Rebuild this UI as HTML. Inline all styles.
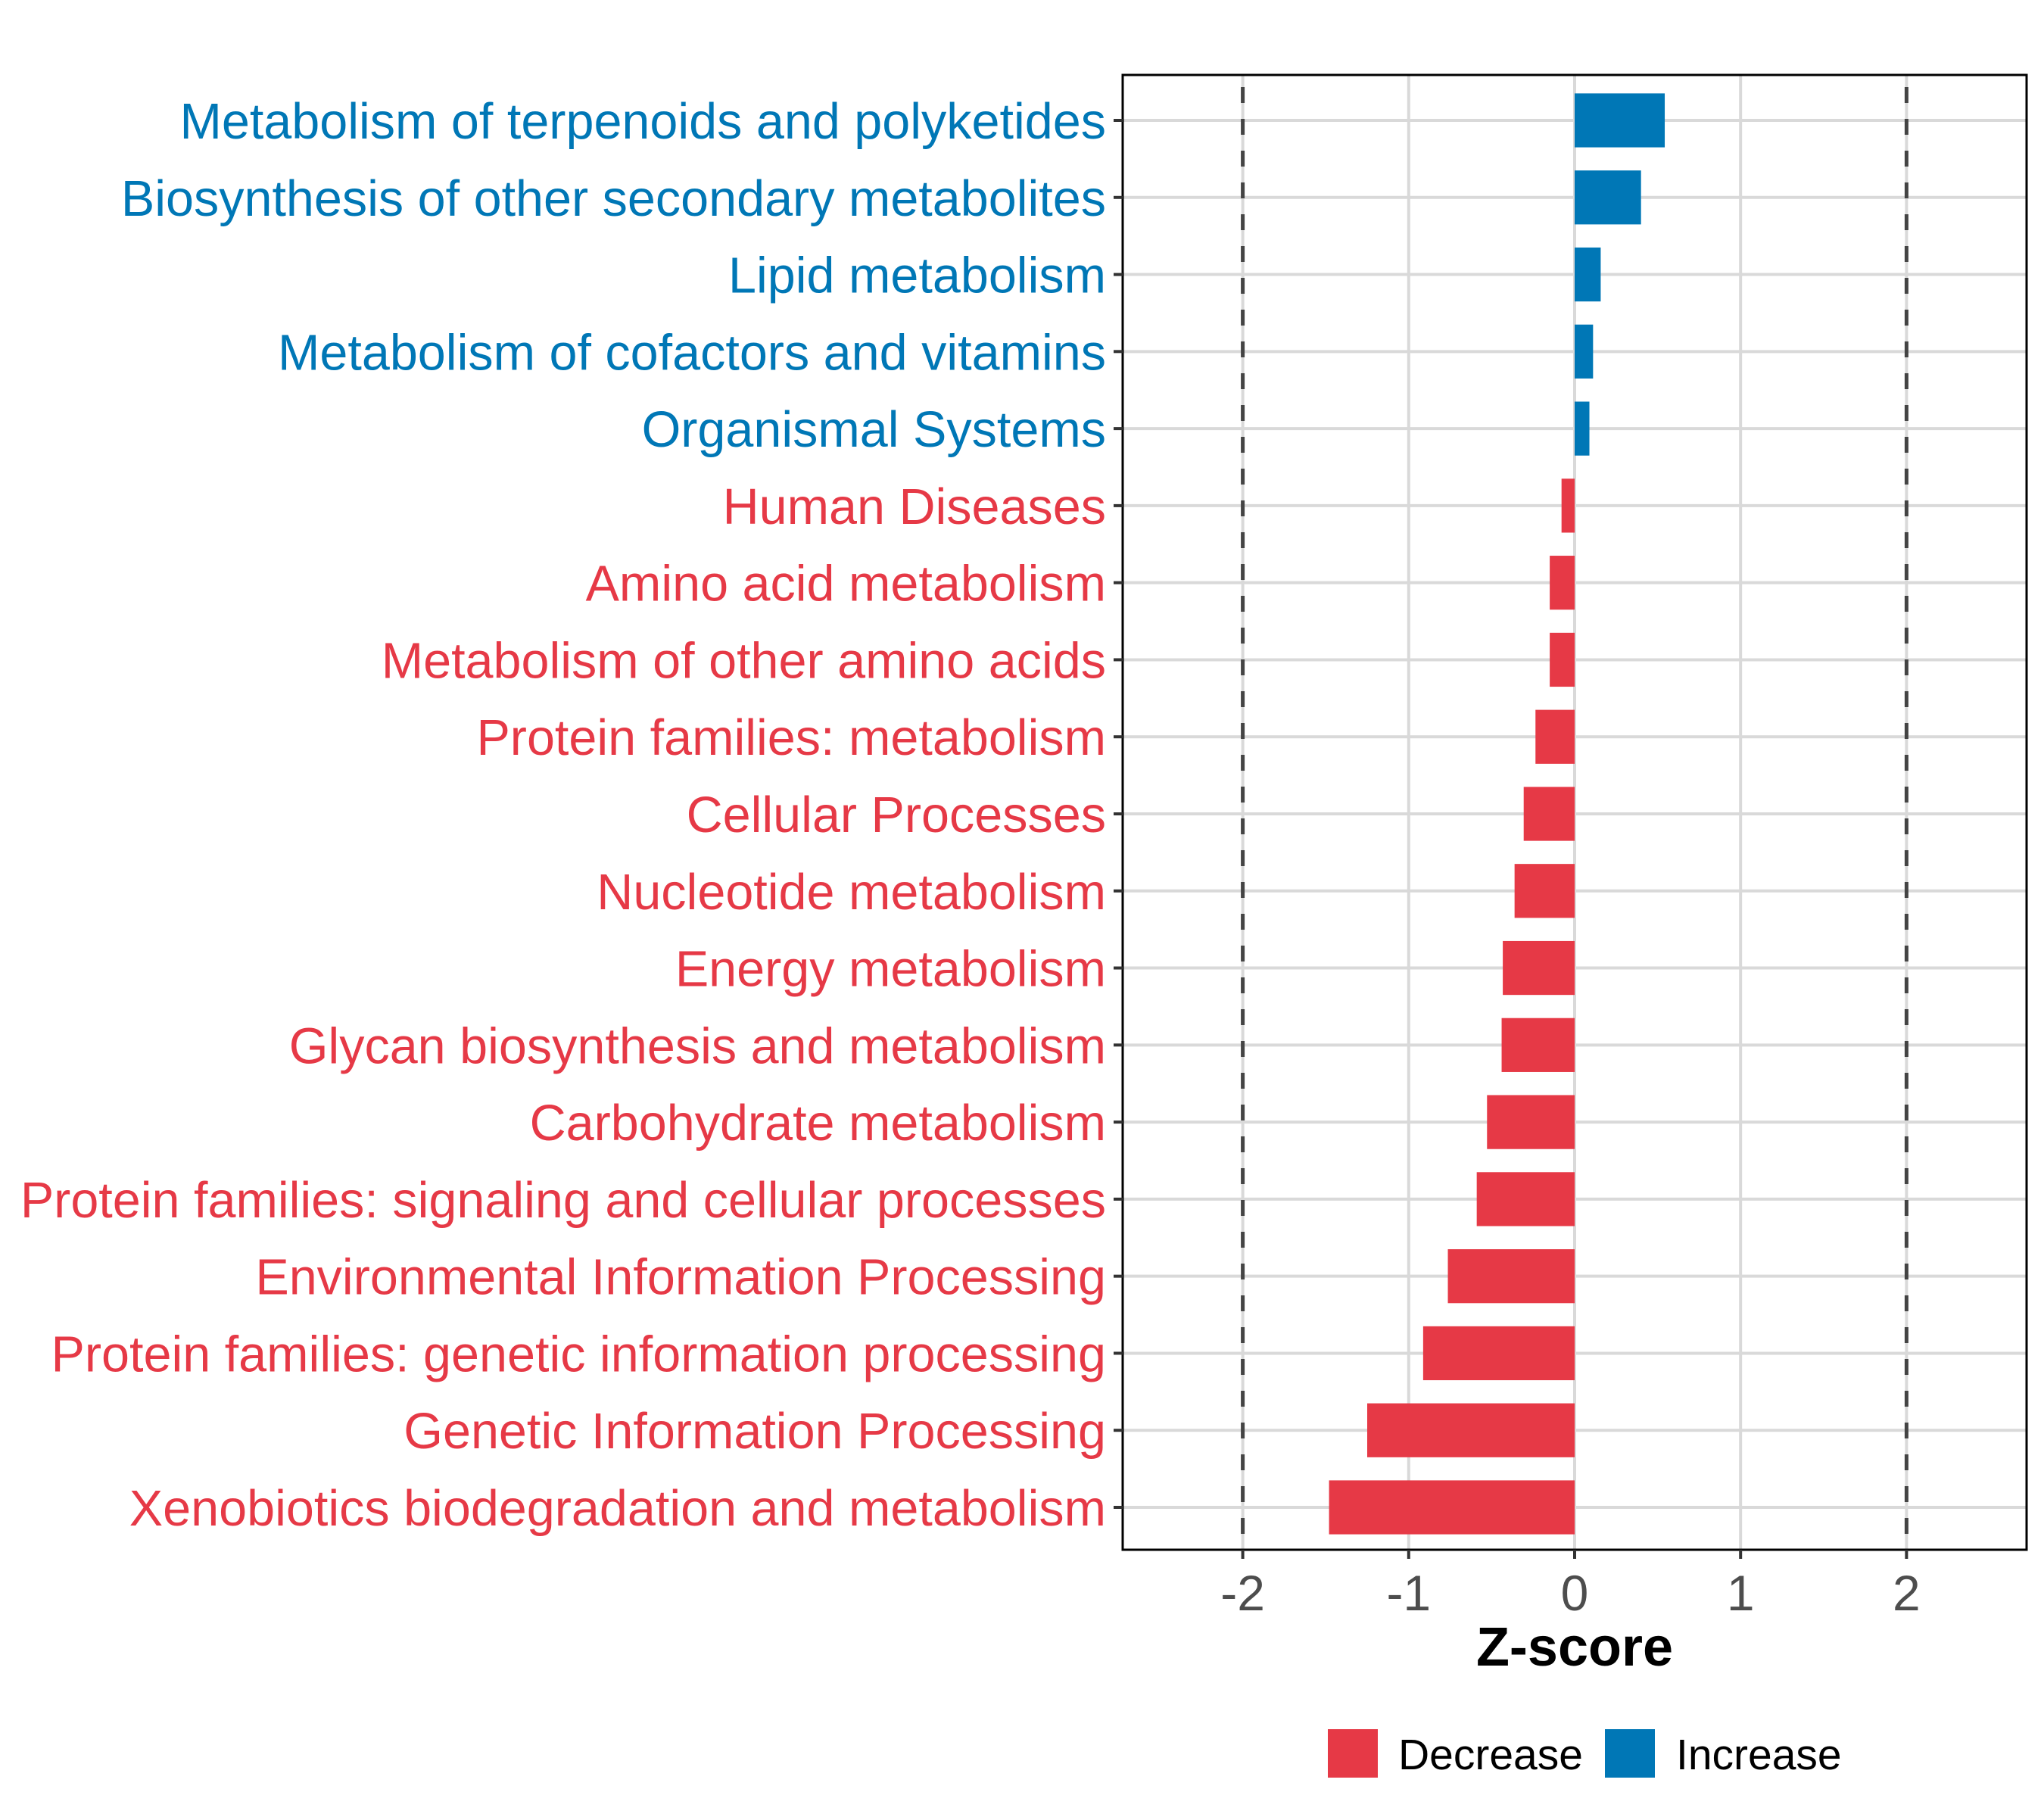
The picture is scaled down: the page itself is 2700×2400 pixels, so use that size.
<!DOCTYPE html>
<html><head><meta charset="utf-8"><style>
html,body{margin:0;padding:0;background:#fff;}
svg{display:block;font-family:"Liberation Sans",Arial,sans-serif;}
</style></head><body>
<svg id="chart" width="2700" height="2400" viewBox="0 0 2700 2400" xmlns="http://www.w3.org/2000/svg">
<rect x="0" y="0" width="2700" height="2400" fill="#fff"/>
<g id="grid"></g>
<g id="refs"></g>
<g id="bars"></g>
<rect x="1483" y="99" width="1194" height="1948" fill="none" stroke="#000" stroke-width="3"/>
<g id="yaxis"></g>
<g id="xaxis"></g>
<text x="2080" y="2200" text-anchor="middle" font-size="72" font-weight="bold" fill="#000">Z-score</text>
<g>
<rect x="1754" y="2284" width="66" height="64" fill="#E63946"/>
<text x="1847" y="2337" font-size="57" fill="#000">Decrease</text>
<rect x="2120" y="2284" width="66" height="64" fill="#0077B6"/>
<text x="2214" y="2337" font-size="57" fill="#000">Increase</text>
</g>
</svg>
<script>
const categories = ["Metabolism of terpenoids and polyketides","Biosynthesis of other secondary metabolites","Lipid metabolism","Metabolism of cofactors and vitamins","Organismal Systems","Human Diseases","Amino acid metabolism","Metabolism of other amino acids","Protein families: metabolism","Cellular Processes","Nucleotide metabolism","Energy metabolism","Glycan biosynthesis and metabolism","Carbohydrate metabolism","Protein families: signaling and cellular processes","Environmental Information Processing","Protein families: genetic information processing","Genetic Information Processing","Xenobiotics biodegradation and metabolism"];
const zscores = [0.543,0.40,0.157,0.111,0.089,-0.079,-0.15,-0.15,-0.236,-0.307,-0.362,-0.433,-0.44,-0.528,-0.59,-0.764,-0.913,-1.25,-1.48];
const xTicks = [-2,-1,0,1,2];
const xTickLabels = ["-2","-1","0","1","2"];
const thresholds = [-2,2];

const NS="http://www.w3.org/2000/svg";
const X0=1483,X1=2677,Y0=99,Y1=2047;
const unit=219.2, zeroX=2080;
function xs(v){return zeroX+v*unit;}
const n=categories.length;
const firstY=159,lastY=1991;
function ys(i){return firstY+i*(lastY-firstY)/(n-1);}
const step=(lastY-firstY)/(n-1);
function mk(tag,attrs,parent){const e=document.createElementNS(NS,tag);for(const k in attrs)e.setAttribute(k,attrs[k]);parent.appendChild(e);return e;}
const grid=document.getElementById('grid'),refs=document.getElementById('refs'),bars=document.getElementById('bars'),ya=document.getElementById('yaxis'),xa=document.getElementById('xaxis');
xTicks.forEach((t,i)=>{
  const l=mk('line',{x1:xs(t),x2:xs(t),y1:Y0,y2:Y1,stroke:'#d9d9d9','stroke-width':4},grid);
  
  
  const tk=mk('line',{x1:xs(t),x2:xs(t),y1:Y1,y2:Y1+12,stroke:'#333','stroke-width':4},xa);
  
  
  const tx=mk('text',{x:xs(t),y:Y1+80,'text-anchor':'middle','font-size':66,fill:'#4d4d4d'},xa);
  tx.textContent=xTickLabels[i];
  
  
});
categories.forEach((c,i)=>{
  const y=ys(i);
  const g=mk('line',{x1:X0,x2:X1,y1:y,y2:y,stroke:'#d9d9d9','stroke-width':4},grid);
  
  
});
thresholds.forEach(t=>{
  const l=mk('line',{x1:xs(t),x2:xs(t),y1:Y0,y2:Y1,stroke:'#444','stroke-width':5,'stroke-dasharray':'21 21','stroke-dashoffset':'-16'},refs);
  
  
});
const bh=step*0.7;
categories.forEach((c,i)=>{
  const v=zscores[i],y=ys(i);
  const col=v>=0?'#0077B6':'#E63946';
  const x=Math.min(xs(0),xs(v)),w=Math.abs(xs(v)-xs(0));
  const r=mk('rect',{x:x,y:y-bh/2,width:w,height:bh,fill:col},bars);
  
  
  const tk=mk('line',{x1:X0-12,x2:X0,y1:y,y2:y,stroke:'#333','stroke-width':4},ya);
  
  
  const t=mk('text',{x:1461,y:y+24,'text-anchor':'end','font-size':66.5,fill:col},ya);
  t.textContent=c;
  
  
});
</script>
</body></html>
